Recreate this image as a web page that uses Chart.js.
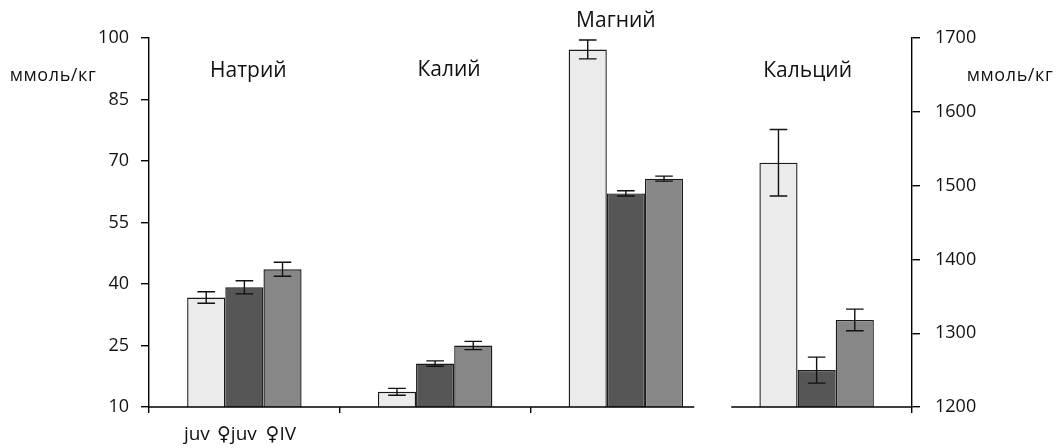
<!DOCTYPE html>
<html><head><meta charset="utf-8">
<script src="https://cdn.jsdelivr.net/npm/chart.js@4"></script>
<style>html,body{margin:0;padding:0;background:#fff;}#wrap{width:1058px;height:448px;}</style>
</head><body><div id="wrap"><canvas id="c" width="1058" height="448"></canvas></div>
<script>
const categories = ['Натрий', 'Калий', 'Магний', 'Кальций'];
const seriesNames = ['juv', '♀juv', '♀IV'];
const unitLabel = 'ммоль/кг';

// Left axis (Na, K, Mg), mmol/kg
const juvLeft      = [36.7, 13.7, 97.2, null];
const fJuvLeft     = [39.2, 20.6, 62.1, null];
const fIVLeft      = [43.6, 25.0, 65.7, null];
const juvLeftErr   = [1.4, 0.85, 2.3, null];
const fJuvLeftErr  = [1.6, 0.65, 0.65, null];
const fIVLeftErr   = [1.7, 1.0, 0.6, null];

// Right axis (Ca), mmol/kg
const juvRight     = [null, null, null, 1531];
const fJuvRight    = [null, null, null, 1250];
const fIVRight     = [null, null, null, 1318];
const juvRightErr  = [null, null, null, 45];
const fJuvRightErr = [null, null, null, 17.6];
const fIVRightErr  = [null, null, null, 14.6];

const leftTicks  = [10, 25, 40, 55, 70, 85, 100];
const rightTicks = [1200, 1300, 1400, 1500, 1600, 1700];

const colors = ['#ebebeb', '#565656', '#878787'];
const FONT = '"Open Sans", "DejaVu Sans", sans-serif';

function ds(label, data, err, color, axis) {
  return { label, data, err, yAxisID: axis, backgroundColor: color,
    borderColor: '#1a1a1a', borderWidth: 1.4, skipNull: true };
}
const datasets = [
  ds(seriesNames[0], juvLeft, juvLeftErr, colors[0], 'y'),
  ds(seriesNames[1], fJuvLeft, fJuvLeftErr, colors[1], 'y'),
  ds(seriesNames[2], fIVLeft, fIVLeftErr, colors[2], 'y'),
  ds(seriesNames[0], juvRight, juvRightErr, colors[0], 'y2'),
  ds(seriesNames[1], fJuvRight, fJuvRightErr, colors[1], 'y2'),
  ds(seriesNames[2], fIVRight, fIVRightErr, colors[2], 'y2')
];

const extras = {
  id: 'extras',
  afterDatasetsDraw(chart, args, opts) {
    const ctx = chart.ctx, ca = chart.chartArea, xs = chart.scales.x;
    ctx.save();
    // error bars
    ctx.strokeStyle = '#111'; ctx.lineWidth = 1.4;
    chart.data.datasets.forEach((d, i) => {
      const meta = chart.getDatasetMeta(i);
      const ys = chart.scales[d.yAxisID];
      d.data.forEach((v, j) => {
        if (v == null) return;
        const el = meta.data[j];
        const e = d.err[j];
        const t = ys.getPixelForValue(v + e), b = ys.getPixelForValue(v - e);
        const x = el.x, h = 8.8;
        ctx.beginPath();
        ctx.moveTo(x, t); ctx.lineTo(x, b);
        ctx.moveTo(x - h, t); ctx.lineTo(x + h, t);
        ctx.moveTo(x - h, b); ctx.lineTo(x + h, b);
        ctx.stroke();
      });
    });
    // x axis line with break before last group
    const cw = xs.getPixelForValue(1) - xs.getPixelForValue(0);
    const brk = xs.getPixelForValue(2) + cw / 2;
    ctx.strokeStyle = '#000'; ctx.lineWidth = 1.4;
    ctx.beginPath();
    ctx.moveTo(ca.left, ca.bottom); ctx.lineTo(brk - 27, ca.bottom);
    ctx.moveTo(brk + 10, ca.bottom); ctx.lineTo(ca.right, ca.bottom);
    ctx.stroke();
    // category titles
    ctx.fillStyle = '#111';
    ctx.font = '21px ' + FONT;
    ctx.textAlign = 'center'; ctx.textBaseline = 'middle';
    categories.forEach((c, j) => {
      const x = xs.getPixelForValue(j) + opts.titleDx[j];
      ctx.fillText(c, x, ca.top + opts.titleDy[j]);
    });
    // unit labels
    ctx.font = '18px ' + FONT;
    ctx.letterSpacing = '0.6px';
    ctx.fillText(unitLabel, ca.left - 96, ca.top + 38);
    ctx.fillText(unitLabel, ca.right + 98, ca.top + 38);
    ctx.letterSpacing = '0px';
    // series names under first group
    ctx.font = '19px ' + FONT;
    const mid = chart.getDatasetMeta(1).data[0];
    seriesNames.forEach((s, i) => {
      ctx.fillText(s, mid.x - 6 + opts.nameDx[i], ca.bottom + 28);
    });
    ctx.restore();
  }
};

const tickStyle = { font: { family: FONT, size: 18 }, color: '#111', callback: v => String(v) };

new Chart(document.getElementById('c'), {
  type: 'bar',
  data: { labels: categories, datasets },
  options: {
    responsive: false, devicePixelRatio: 1, animation: false,
    categoryPercentage: 0.6, barPercentage: 1.0,
    layout: { padding: { top: 38, left: 0, right: 0, bottom: 0 } },
    plugins: { legend: { display: false }, tooltip: { enabled: false },
      extras: { titleDx: [4, 14, -10, -9], titleDy: [33, 32, -17, 33], nameDx: [-41.5, -1.5, 42.5] } },
    scales: {
      x: {
        offset: true,
        grid: { offset: true, drawOnChartArea: false, drawTicks: true, tickLength: 6,
          lineWidth: 1.4, color: c => c.index === 3 ? 'rgba(0,0,0,0)' : '#000' },
        border: { display: false },
        ticks: { display: false },
        afterFit: s => { s.height = 41; }
      },
      y: {
        position: 'left', min: 10, max: 100,
        afterBuildTicks: s => { s.ticks = leftTicks.map(v => ({ value: v })); },
        grid: { drawOnChartArea: false, tickLength: 8, color: '#000', lineWidth: 1.4 },
        border: { color: '#000', width: 1.4 },
        ticks: Object.assign({ padding: 12 }, tickStyle),
        afterFit: s => { s.width = 149; }
      },
      y2: {
        position: 'right', min: 1200, max: 1700,
        afterBuildTicks: s => { s.ticks = rightTicks.map(v => ({ value: v })); },
        grid: { drawOnChartArea: false, tickLength: 8, color: '#000', lineWidth: 1.4 },
        border: { color: '#000', width: 1.4 },
        ticks: Object.assign({ padding: 15 }, tickStyle),
        afterFit: s => { s.width = 146; }
      }
    }
  },
  plugins: [extras]
});
</script>
</body></html>
